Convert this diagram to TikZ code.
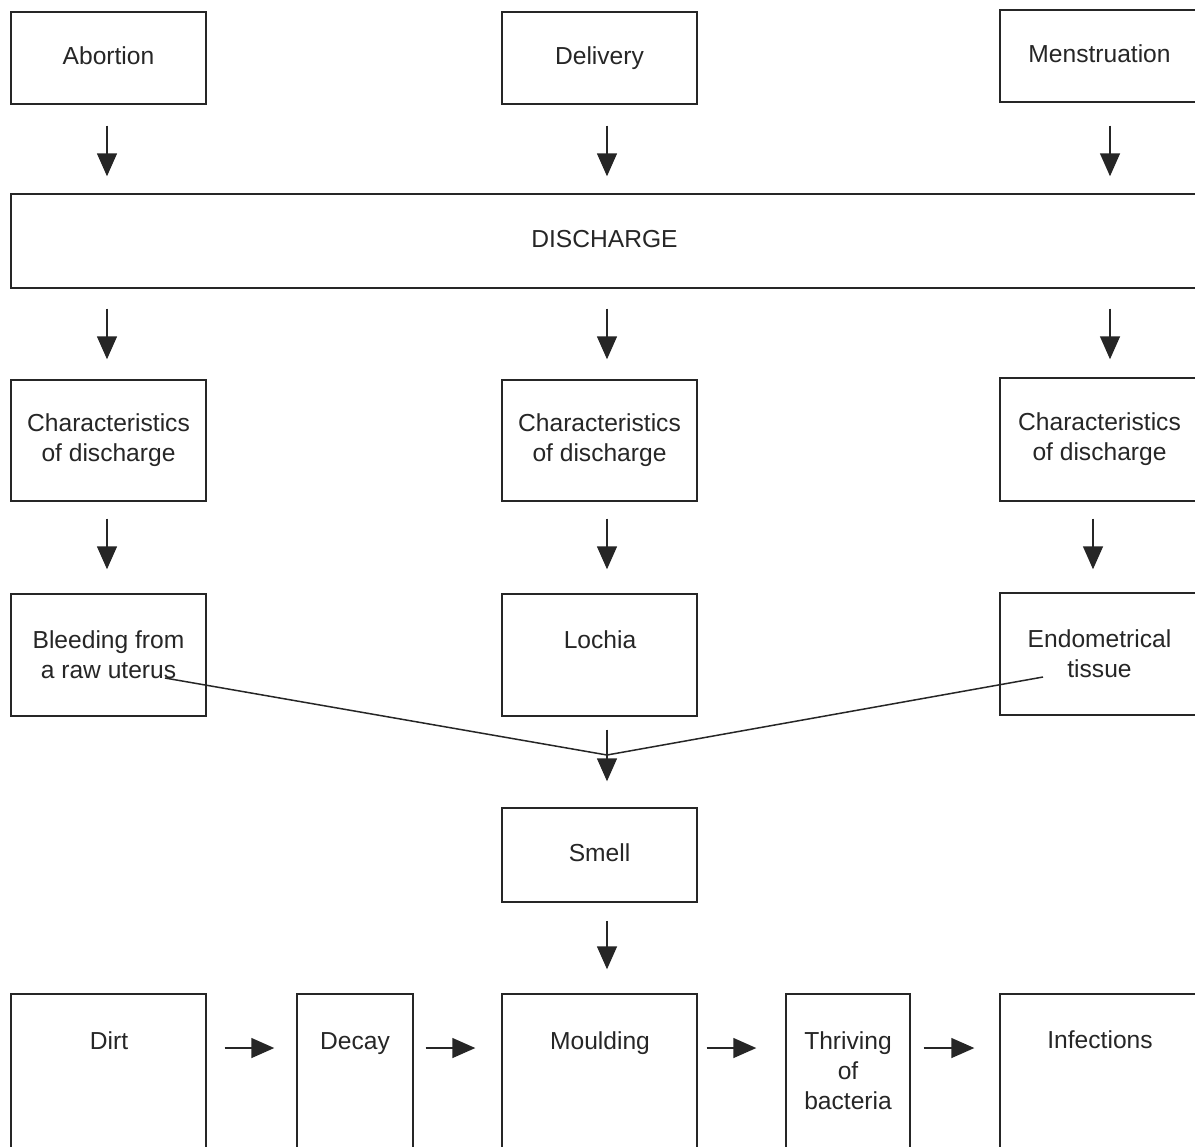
\documentclass[tikz,border=0pt]{standalone}
\usepackage{fontspec}
\setmainfont{Liberation Sans}
\usetikzlibrary{arrows.meta,calc}
\definecolor{ink}{HTML}{262626}
\begin{document}
\begin{tikzpicture}[x=0.02cm,y=-0.02cm,
  lbl/.style={font=\fontsize{14}{17}\selectfont, text=ink, align=center},
  one/.style={text height=0.76em, text depth=0pt},
  box/.style={lbl, draw=ink, line width=0.85pt, rectangle, inner sep=0pt},
  txt/.style={lbl, inner sep=0pt},
  arr/.style={draw=ink, line width=0.85pt, -{Triangle[width=0.4cm,length=0.46cm]}},
  ln/.style={draw=ink, line width=0.85pt}]
\useasboundingbox (0,0) rectangle (1195,1146);
\fill[white] (0,0) rectangle (1195,1146);
\clip (0,0) rectangle (1195,1146);

% row 1
\node[box, one, minimum width=3.9cm, minimum height=1.84cm] (ab) at (108.5,58) {Abortion};
\node[box, one, minimum width=3.9cm, minimum height=1.84cm] (del) at (599.5,58) {Delivery};
\node[box, one, minimum width=3.98cm, minimum height=1.84cm] (men) at (1099.5,56) {Menstruation};
% discharge
\node[box, one, minimum width=23.74cm, minimum height=1.88cm] (dis) at (604.5,241) {DISCHARGE};
% row 3
\node[box, minimum width=3.9cm, minimum height=2.42cm] (ch1) at (108.5,440.5) {Characteristics\\of discharge};
\node[box, minimum width=3.9cm, minimum height=2.42cm] (ch2) at (599.5,440.5) {Characteristics\\of discharge};
\node[box, minimum width=3.98cm, minimum height=2.46cm] (ch3) at (1099.5,439.5) {Characteristics\\of discharge};
% row 4
\node[box, minimum width=3.9cm, minimum height=2.44cm] (bl) at (108.5,655) {Bleeding from\\a raw uterus};
\node[box, minimum width=3.9cm, minimum height=2.44cm] (lo) at (599.5,655) {};
\node[txt, one] (loT) at (600,642) {Lochia};
\node[box, minimum width=3.98cm, minimum height=2.44cm] (en) at (1099.5,654) {Endometrical\\tissue};
% smell
\node[box, one, minimum width=3.9cm, minimum height=1.88cm] (sm) at (599.5,855) {Smell};
% bottom row
\node[box, minimum width=3.9cm, minimum height=3.72cm] (dirt) at (108.5,1087) {};
\node[box, minimum width=2.32cm, minimum height=3.72cm] (dec) at (355,1087) {};
\node[box, minimum width=3.9cm, minimum height=3.72cm] (mou) at (599.5,1087) {};
\node[box, minimum width=2.48cm, minimum height=3.72cm] (thr) at (848,1087) {};
\node[box, minimum width=3.98cm, minimum height=3.72cm] (inf) at (1099.5,1087) {};
\node[txt, one] (dirtT) at (109,1043) {Dirt};
\node[txt, one] (decT) at (355,1043) {Decay};
\node[txt, one] (mouT) at (600,1043) {Moulding};
\node[txt] (thrT) at (848,1071) {Thriving\\of\\bacteria};
\node[txt, one] (infT) at (1100,1042) {Infections};

% arrows row 1 -> discharge
\draw[arr, shorten <=0.42cm, shorten >=0.34cm] ([xshift=-0.03cm]ab.south) -- ([xshift=-0.03cm]ab.south |- dis.north);
\draw[arr, shorten <=0.42cm, shorten >=0.34cm] ([xshift=0.15cm]del.south) -- ([xshift=0.15cm]del.south |- dis.north);
\draw[arr, shorten <=0.46cm, shorten >=0.34cm] ([xshift=0.21cm]men.south) -- ([xshift=0.21cm]men.south |- dis.north);
% discharge -> characteristics
\draw[arr, shorten <=0.4cm, shorten >=0.4cm] ([xshift=-0.03cm]ch1.north |- dis.south) -- ([xshift=-0.03cm]ch1.north);
\draw[arr, shorten <=0.4cm, shorten >=0.4cm] ([xshift=0.15cm]ch2.north |- dis.south) -- ([xshift=0.15cm]ch2.north);
\draw[arr, shorten <=0.4cm, shorten >=0.36cm] ([xshift=0.21cm]ch3.north |- dis.south) -- ([xshift=0.21cm]ch3.north);
% characteristics -> row 4
\draw[arr, shorten <=0.34cm, shorten >=0.48cm] ([xshift=-0.03cm]ch1.south) -- ([xshift=-0.03cm]bl.north);
\draw[arr, shorten <=0.34cm, shorten >=0.48cm] ([xshift=0.15cm]ch2.south) -- ([xshift=0.15cm]lo.north);
\draw[arr, shorten <=0.34cm, shorten >=0.46cm] ([xshift=-0.13cm]ch3.south) -- ([xshift=-0.13cm]en.north);
% converging to smell
\coordinate (m) at (607,755);
\draw[ln] ($(bl.center)+(56.5,23)$) -- (m) -- ($(en.center)+(-56.5,23)$);
\draw[arr, shorten <=0.26cm, shorten >=0.52cm] ([xshift=0.15cm]lo.south) -- ([xshift=0.15cm]sm.north);
% smell -> moulding
\draw[arr, shorten <=0.36cm, shorten >=0.48cm] ([xshift=0.15cm]sm.south) -- ([xshift=0.15cm]mou.north);
% bottom chain
\draw[arr, shorten <=0.36cm, shorten >=0.44cm] ([yshift=0.78cm]dirt.east) -- ([yshift=0.78cm]dec.west);
\draw[arr, shorten <=0.24cm, shorten >=0.52cm] ([yshift=0.78cm]dec.east) -- ([yshift=0.78cm]mou.west);
\draw[arr, shorten <=0.18cm, shorten >=0.58cm] ([yshift=0.78cm]mou.east) -- ([yshift=0.78cm]thr.west);
\draw[arr, shorten <=0.26cm, shorten >=0.5cm] ([yshift=0.78cm]thr.east) -- ([yshift=0.78cm]inf.west);
\end{tikzpicture}
\end{document}
